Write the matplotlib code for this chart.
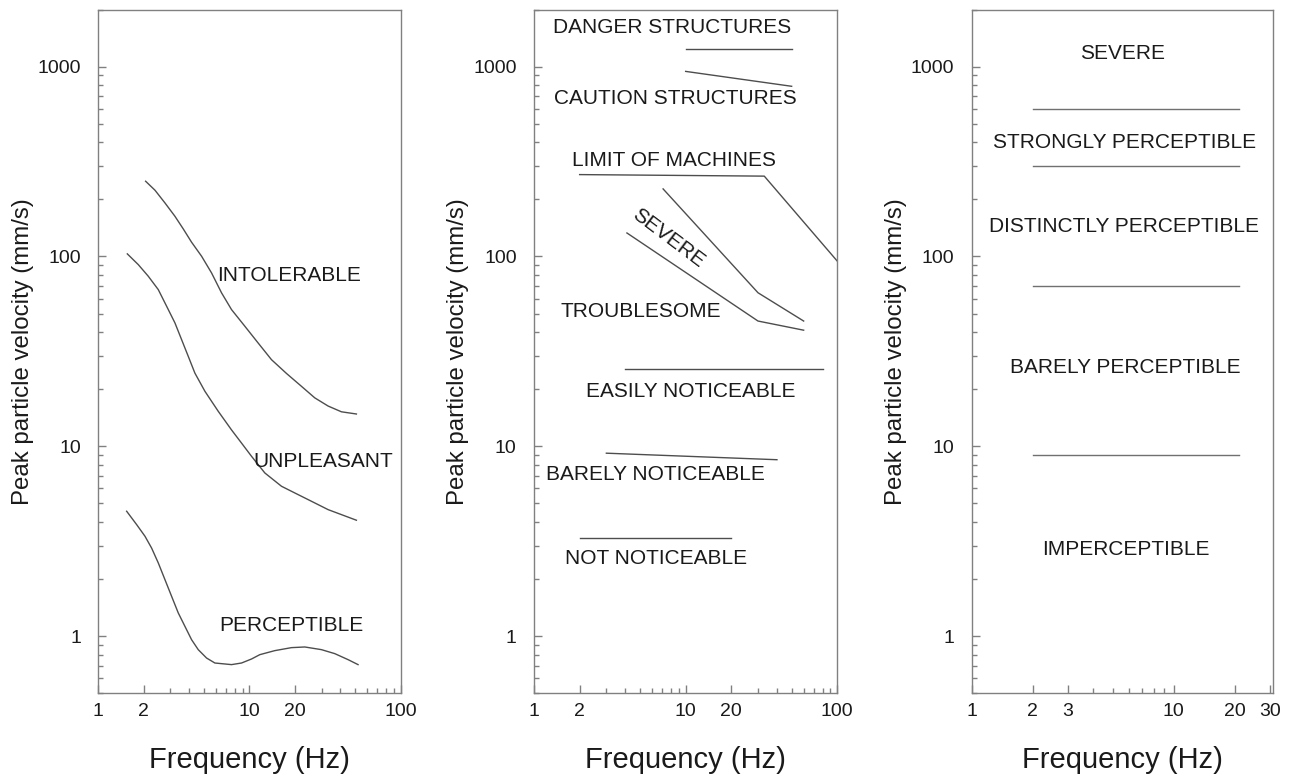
import matplotlib
matplotlib.use("Agg")
import matplotlib.pyplot as plt
from matplotlib.ticker import FixedLocator, FixedFormatter, LogLocator, NullFormatter

plt.rcParams['font.family'] = ['Liberation Sans', 'DejaVu Sans']

# ---------------- data ----------------
# Panel 1 curves (frequency Hz, PPV mm/s)
intolerable_f = [2.056, 2.371, 2.760, 3.213, 3.648, 4.141, 4.823, 5.615, 6.539, 7.611,
                 9.325, 11.42, 13.99, 17.58, 22.09, 27.05, 33.14, 40.6, 51.0]
intolerable_v = [249.1, 223.4, 191.5, 162.9, 139.7, 118.9, 100.3, 81.9, 64.3, 52.5,
                 42.9, 35.0, 28.6, 24.2, 20.7, 18.0, 16.3, 15.2, 14.8]
unpleasant_f = [1.556, 1.839, 2.141, 2.494, 2.831, 3.213, 3.556, 3.936, 4.356, 5.073,
                6.214, 7.611, 8.864, 10.32, 12.64, 16.29, 19.95, 24.44, 33.14, 51.0]
unpleasant_v = [103.2, 90.6, 78.7, 66.9, 54.7, 44.7, 36.5, 29.8, 24.3, 19.5,
                15.3, 12.2, 10.4, 8.86, 7.24, 6.16, 5.68, 5.24, 4.64, 4.08]
perceptible_f = [1.540, 1.793, 2.036, 2.253, 2.494, 2.760, 3.054, 3.381, 3.741, 4.141,
                 4.583, 5.203, 5.906, 7.611, 8.864, 10.32, 11.71, 14.72, 18.97, 23.24,
                 29.95, 36.68, 44.94, 52.3]
perceptible_v = [4.55, 3.87, 3.36, 2.91, 2.43, 1.985, 1.622, 1.325, 1.127, 0.958,
                 0.849, 0.767, 0.722, 0.708, 0.722, 0.758, 0.799, 0.839, 0.870, 0.877,
                 0.849, 0.809, 0.752, 0.708]

# Panel 2 lines
danger_f = [10, 50]
danger_v = [1240, 1240]
caution_f = [10, 50]
caution_v = [944, 788]
machines_f = [2, 33, 100]
machines_v = [270, 265, 94.5]
severe_f = [7.1, 30, 60]
severe_v = [227, 64.4, 45.7]
troublesome_f = [4.1, 30, 60]
troublesome_v = [133, 45.7, 40.9]
easily_f = [4, 80]
easily_v = [25.6, 25.6]
barely_f = [3, 40]
barely_v = [9.2, 8.5]
notnot_f = [2, 20]
notnot_v = [3.3, 3.3]

# Panel 3 thresholds
thresh_f = [2, 21]
thresh_levels = [600, 300, 70, 9]

# Labels (text, freq, velocity)
labels1 = [("INTOLERABLE", 18.4, 79), ("UNPLEASANT", 31, 8.3), ("PERCEPTIBLE", 19, 1.14)]
labels2 = [("DANGER STRUCTURES", 8.1, 1600), ("CAUTION STRUCTURES", 8.5, 677),
           ("LIMIT OF MACHINES", 8.4, 320), ("TROUBLESOME", 5.1, 51),
           ("EASILY NOTICEABLE", 10.8, 19.5), ("BARELY NOTICEABLE", 6.3, 7.1),
           ("NOT NOTICEABLE", 6.4, 2.58)]
severe_label = ("SEVERE", 7.7, 125)
labels3 = [("SEVERE", 5.6, 1180), ("STRONGLY PERCEPTIBLE", 5.7, 400),
           ("DISTINCTLY PERCEPTIBLE", 5.7, 144), ("BARELY PERCEPTIBLE", 5.75, 26),
           ("IMPERCEPTIBLE", 5.8, 2.87)]

xticks12 = [1, 2, 10, 20, 100]
xminor12 = [3, 4, 5, 6, 7, 8, 9, 30, 40, 50, 60, 70, 80, 90]
xticks3 = [1, 2, 3, 10, 20, 30]
xminor3 = [4, 5, 6, 7, 8, 9]
yticks = [1, 10, 100, 1000]

# ---------------- style ----------------
W, H = 1292, 776
fig = plt.figure(figsize=(W / 100, H / 100), dpi=100)
line_c = '#4d4d4d'
spine_c = '#808080'
text_c = '#1a1a1a'
ann_fs = 15

def px_axes(left, right, top=9.5, bottom=693.3):
    return [left / W, (H - bottom) / H, (right - left) / W, (bottom - top) / H]

def setup(ax, xmax, xt, xm):
    ax.set_xscale('log')
    ax.set_yscale('log')
    ax.set_xlim(1, xmax)
    ax.set_ylim(0.5, 2000)
    for s in ax.spines.values():
        s.set_color(spine_c)
        s.set_linewidth(1.0)
    ax.xaxis.set_major_locator(FixedLocator(xt))
    ax.xaxis.set_major_formatter(FixedFormatter([str(v) for v in xt]))
    ax.xaxis.set_minor_locator(FixedLocator(xm))
    ax.xaxis.set_minor_formatter(NullFormatter())
    ax.yaxis.set_major_locator(FixedLocator(yticks))
    ax.yaxis.set_major_formatter(FixedFormatter([str(v) for v in yticks]))
    ax.yaxis.set_minor_locator(LogLocator(base=10, subs=range(2, 10)))
    ax.yaxis.set_minor_formatter(NullFormatter())
    ax.tick_params(which='both', direction='in', color=spine_c, top=False, right=False,
                   labelsize=14, labelcolor=text_c)
    ax.tick_params(which='major', length=5.8, width=1.0)
    ax.tick_params(which='minor', length=3.4, width=1.0)
    ax.tick_params(axis='x', which='major', pad=7)
    ax.tick_params(axis='y', which='major', pad=12.5)
    ax.set_xlabel('Frequency (Hz)', fontsize=21, color=text_c, labelpad=19)
    ax.set_ylabel('Peak particle velocity (mm/s)', fontsize=17.3, color=text_c)
    ax.yaxis.set_label_coords(-0.214, 0.5)

def put_labels(ax, labels):
    for t, x, y in labels:
        ax.text(x, y, t, fontsize=ann_fs, color=text_c, ha='center', va='center')

# Panel 1
ax1 = fig.add_axes(px_axes(98.3, 400.6))
setup(ax1, 100, xticks12, xminor12)
for fx, vy in [(intolerable_f, intolerable_v), (unpleasant_f, unpleasant_v),
               (perceptible_f, perceptible_v)]:
    ax1.plot(fx, vy, color=line_c, lw=1.0, solid_joinstyle='round')
put_labels(ax1, labels1)

# Panel 2
ax2 = fig.add_axes(px_axes(534.0, 837.3))
setup(ax2, 100, xticks12, xminor12)
for fx, vy in [(danger_f, danger_v), (caution_f, caution_v), (machines_f, machines_v),
               (severe_f, severe_v), (troublesome_f, troublesome_v), (easily_f, easily_v),
               (barely_f, barely_v), (notnot_f, notnot_v)]:
    ax2.plot(fx, vy, color=line_c, lw=1.0)
put_labels(ax2, labels2)
ax2.text(severe_label[1], severe_label[2], severe_label[0], fontsize=ann_fs, color=text_c,
         ha='center', va='center', rotation=-37, rotation_mode='anchor')

# Panel 3
ax3 = fig.add_axes(px_axes(971.7, 1273.0))
setup(ax3, 31, xticks3, xminor3)
for lev in thresh_levels:
    ax3.plot(thresh_f, [lev, lev], color='#707070', lw=1.0)
put_labels(ax3, labels3)

fig.savefig('out.png', dpi=100)
